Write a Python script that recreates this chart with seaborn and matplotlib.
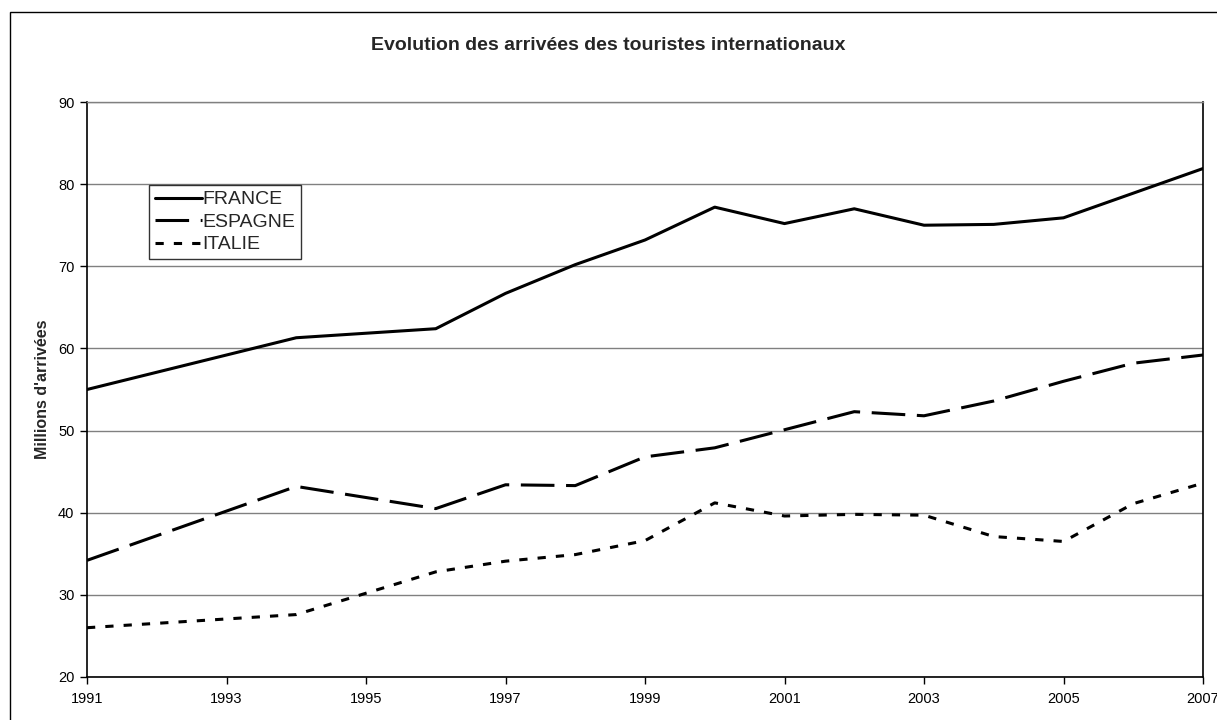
import matplotlib
matplotlib.use("Agg")
import matplotlib.pyplot as plt
import seaborn as sns
import pandas as pd
from matplotlib.patches import Rectangle

years = [1991, 1994, 1996, 1997, 1998, 1999, 2000, 2001, 2002, 2003, 2004, 2005, 2006, 2007]
france = [55.0, 61.3, 62.4, 66.7, 70.2, 73.2, 77.2, 75.2, 77.0, 75.0, 75.1, 75.9, 78.9, 81.9]
espagne = [34.2, 43.2, 40.5, 43.4, 43.3, 46.8, 47.9, 50.1, 52.3, 51.8, 53.6, 56.0, 58.2, 59.2]
italie = [26.0, 27.6, 32.8, 34.1, 34.9, 36.6, 41.2, 39.6, 39.8, 39.7, 37.1, 36.5, 41.1, 43.6]
series_names = ["FRANCE", "ESPAGNE", "ITALIE"]
x_ticks = list(range(1991, 2008, 2))
y_ticks = list(range(20, 91, 10))

title = "Evolution des arrivées des touristes internationaux"
ylabel = "Millions d'arrivées"

df = pd.DataFrame({
    "year": years * 3,
    "value": france + espagne + italie,
    "pays": [n for n in series_names for _ in years],
})

sns.set_theme(style="white")
plt.rcParams["font.family"] = ["Liberation Sans", "DejaVu Sans"]

fig = plt.figure(figsize=(12.17, 7.2), dpi=100)
ax = fig.add_axes([87 / 1217, 1 - 677 / 720, (1203 - 87) / 1217, (677 - 102) / 720])

sns.lineplot(
    data=df, x="year", y="value", style="pays", style_order=series_names,
    dashes={"FRANCE": "", "ESPAGNE": (11, 3.8), "ITALIE": (2.7, 3.3)},
    color="black", linewidth=2.2, ax=ax, sort=False,
)

ax.set_xlim(1991, 2007)
ax.set_ylim(20, 90)
ax.set_xticks(x_ticks)
ax.set_xticklabels([str(t) for t in x_ticks], fontsize=10.5)
ax.set_yticks(y_ticks)
ax.set_yticklabels([str(t) for t in y_ticks], fontsize=10.5)
ax.tick_params(axis="both", direction="out", length=5, width=1, color="black",
               bottom=True, left=True, labelcolor="black")
ax.tick_params(axis="x", pad=6)
ax.tick_params(axis="y", pad=4)
ax.grid(axis="y", color="#808080", linewidth=1)
ax.grid(axis="x", visible=False)
for s in ["left", "bottom", "right"]:
    ax.spines[s].set_color("black")
    ax.spines[s].set_linewidth(1.2)
ax.spines["top"].set_color("#808080")
ax.spines["top"].set_linewidth(1)
ax.set_xlabel("")
ax.set_ylabel(ylabel, fontsize=11.5, fontweight="bold", labelpad=6)

handles, labels = ax.get_legend_handles_labels()
leg = ax.legend(handles, labels, loc="upper left",
                bbox_to_anchor=((149 - 87) / 1116, (677 - 185) / 575),
                frameon=True, fancybox=False, edgecolor="black", fontsize=14,
                handlelength=2.4, handletextpad=0.05, labelspacing=0.25,
                borderpad=0.3, borderaxespad=0)
leg.get_frame().set_linewidth(1)

fig.text(0.5, 1 - 45 / 720, title, ha="center", va="center",
         fontsize=14, fontweight="bold")

fig.patches.append(Rectangle((10 / 1217, -0.1), 1.2, 1 - 12 / 720 + 0.1,
                             transform=fig.transFigure, fill=False,
                             edgecolor="black", linewidth=1))

fig.savefig("out.png", dpi=100, facecolor="white")
